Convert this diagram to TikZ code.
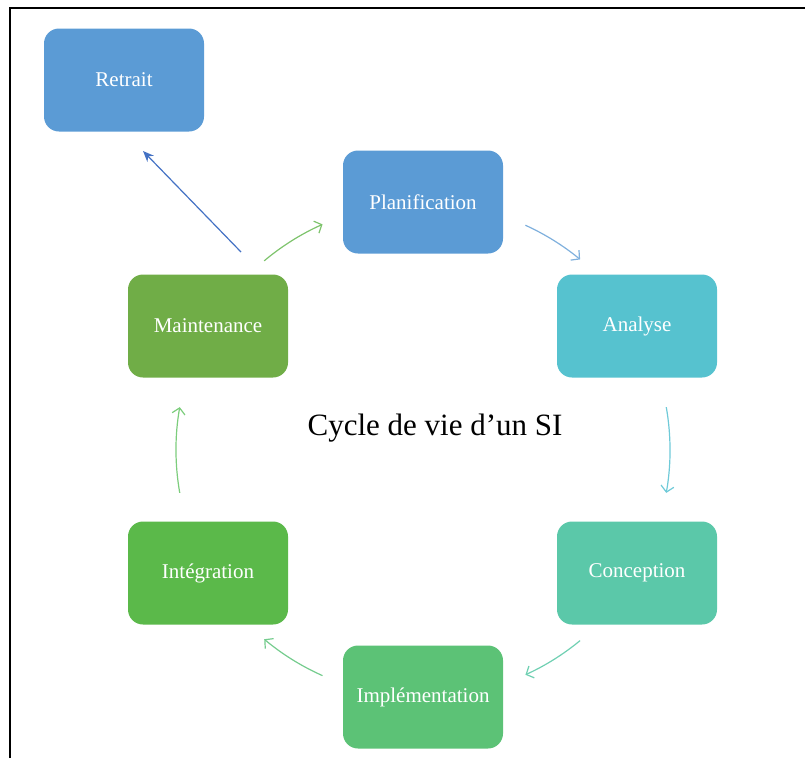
\documentclass[tikz,border=0pt]{standalone}
\usepackage{fontspec}
\setmainfont{Liberation Serif}
\usetikzlibrary{arrows.meta}
\definecolor{cRet}{HTML}{5B9BD5}
\definecolor{cPla}{HTML}{5B9BD5}
\definecolor{cAna}{HTML}{56C2CF}
\definecolor{cCon}{HTML}{5BC8A9}
\definecolor{cImp}{HTML}{5CC276}
\definecolor{cInt}{HTML}{5BB94A}
\definecolor{cMai}{HTML}{70AD47}
\definecolor{aMP}{HTML}{7DC36B}
\definecolor{aPA}{HTML}{7FB0DD}
\definecolor{aAC}{HTML}{6FCAD8}
\definecolor{aCI}{HTML}{6FD0B2}
\definecolor{aII}{HTML}{75CC8E}
\definecolor{aIM}{HTML}{7CCD7C}
\definecolor{aRet}{HTML}{4472C4}
\begin{document}
\begin{tikzpicture}[x=1pt,y=-1pt,
  box/.style={rounded corners=15pt, minimum width=160pt, minimum height=103pt,
    inner sep=0pt, text=white, font=\fontsize{21}{25}\selectfont},
  cyc/.style={line width=1.2pt, -{Straight Barb[length=6pt,width=13pt,line width=1.2pt]}},
  retarrow/.style={line width=1.2pt, draw=aRet, -{Stealth[length=11pt,width=9pt]}}]
\useasboundingbox (0,0) rectangle (805,758);
\draw[line width=2pt] (10,758) -- (10,8) -- (805,8);

\node[box, fill=cRet] (ret) at (124,80) {Retrait};
\node[box, fill=cPla] (pla) at (423,202) {Planification};
\node[box, fill=cAna] (ana) at (637,326) {Analyse};
\node[box, fill=cCon] (con) at (637,573) {Conception};
\node[box, fill=cImp] (imp) at (423,697) {Implémentation};
\node[box, fill=cInt] (int) at (208,573) {Intégration};
\node[box, fill=cMai] (mai) at (208,326) {Maintenance};

\node[font=\fontsize{31}{36}\selectfont] (title) at (435,428) {Cycle de vie d’un SI};

\coordinate (C) at (423,450);
\draw[cyc, draw=aMP] (C) ++(-130:247) arc[start angle=-130, end angle=-114, radius=247];
\draw[cyc, draw=aPA] (C) ++(-65.5:247) arc[start angle=-65.5, end angle=-50.5, radius=247];
\draw[cyc, draw=aAC] (C) ++(-10:247) arc[start angle=-10, end angle=10, radius=247];
\draw[cyc, draw=aCI] (C) ++(50.5:247) arc[start angle=50.5, end angle=65.5, radius=247];
\draw[cyc, draw=aII] (C) ++(114:247) arc[start angle=114, end angle=130, radius=247];
\draw[cyc, draw=aIM] (C) ++(170:247) arc[start angle=170, end angle=190, radius=247];

\coordinate (r1) at (241,252);
\coordinate (r2) at (143,151);
\draw[retarrow] (r1) -- (r2);
\end{tikzpicture}
\end{document}
